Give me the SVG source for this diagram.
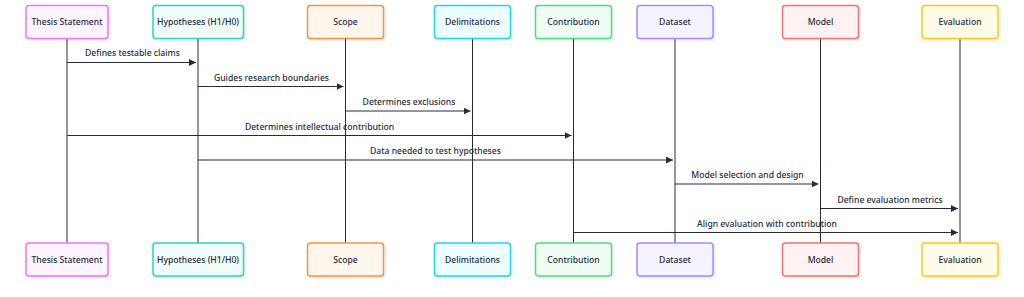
<svg xmlns="http://www.w3.org/2000/svg" width="1024" height="297" viewBox="0 0 1024 297">
<defs>
<marker id="arr" markerWidth="8" markerHeight="8" refX="7" refY="3.5" orient="auto" markerUnits="userSpaceOnUse"><path d="M0,0 L7,3.5 L0,7 Z" fill="#2a2a3e"/></marker>
<filter id="sh" x="-10%" y="-10%" width="130%" height="140%"><feDropShadow dx="1.5" dy="1.5" stdDeviation="0.8" flood-color="#000" flood-opacity="0.1"/></filter>
</defs>
<style>
.box{stroke-width:1.5;filter:url(#sh)}
.t{font-family:"Noto Sans","DejaVu Sans",sans-serif;font-size:8.6px;font-weight:500;fill:#2a2a3e;text-anchor:middle;dominant-baseline:central}
.life{stroke:#2a2a3e;stroke-width:1}
.msg{stroke:#2a2a3e;stroke-width:1;fill:none;marker-end:url(#arr)}
</style>
<rect width="1024" height="297" fill="#fff"/>
<g id="lifelines">
<line class="life" x1="67" y1="38" x2="67" y2="243"/>
<line class="life" x1="198" y1="38" x2="198" y2="243"/>
<line class="life" x1="345.5" y1="38" x2="345.5" y2="243"/>
<line class="life" x1="472.5" y1="38" x2="472.5" y2="243"/>
<line class="life" x1="573.5" y1="38" x2="573.5" y2="243"/>
<line class="life" x1="675" y1="38" x2="675" y2="243"/>
<line class="life" x1="820.5" y1="38" x2="820.5" y2="243"/>
<line class="life" x1="960" y1="38" x2="960" y2="243"/>
</g>
<g id="thesis">
<rect class="box" x="26" y="5.5" width="82" height="33" rx="3" fill="#fdf4ff" stroke="#e879f9"/>
<text class="t" x="67" y="22">Thesis Statement</text>
<rect class="box" x="26" y="243" width="82" height="33" rx="3" fill="#fdf4ff" stroke="#e879f9"/>
<text class="t" x="67" y="259.5">Thesis Statement</text>
</g>
<g id="hypotheses">
<rect class="box" x="153" y="5.5" width="90.5" height="33" rx="3" fill="#f0fdfa" stroke="#2dd4bf"/>
<text class="t" x="198" y="22">Hypotheses (H1/H0)</text>
<rect class="box" x="153" y="243" width="90.5" height="33" rx="3" fill="#f0fdfa" stroke="#2dd4bf"/>
<text class="t" x="198" y="259.5">Hypotheses (H1/H0)</text>
</g>
<g id="scope">
<rect class="box" x="307.5" y="5.5" width="76" height="33" rx="3" fill="#fff7ed" stroke="#fb923c"/>
<text class="t" x="345.5" y="22">Scope</text>
<rect class="box" x="307.5" y="243" width="76" height="33" rx="3" fill="#fff7ed" stroke="#fb923c"/>
<text class="t" x="345.5" y="259.5">Scope</text>
</g>
<g id="delimitations">
<rect class="box" x="434.5" y="5.5" width="76" height="33" rx="3" fill="#ecfeff" stroke="#22d3ee"/>
<text class="t" x="472.5" y="22">Delimitations</text>
<rect class="box" x="434.5" y="243" width="76" height="33" rx="3" fill="#ecfeff" stroke="#22d3ee"/>
<text class="t" x="472.5" y="259.5">Delimitations</text>
</g>
<g id="contribution">
<rect class="box" x="535.5" y="5.5" width="76" height="33" rx="3" fill="#f0fdf4" stroke="#4ade80"/>
<text class="t" x="573.5" y="22">Contribution</text>
<rect class="box" x="535.5" y="243" width="76" height="33" rx="3" fill="#f0fdf4" stroke="#4ade80"/>
<text class="t" x="573.5" y="259.5">Contribution</text>
</g>
<g id="dataset">
<rect class="box" x="637" y="5.5" width="76" height="33" rx="3" fill="#f5f3ff" stroke="#a78bfa"/>
<text class="t" x="675" y="22">Dataset</text>
<rect class="box" x="637" y="243" width="76" height="33" rx="3" fill="#f5f3ff" stroke="#a78bfa"/>
<text class="t" x="675" y="259.5">Dataset</text>
</g>
<g id="model">
<rect class="box" x="782.5" y="5.5" width="76" height="33" rx="3" fill="#fef2f2" stroke="#f87171"/>
<text class="t" x="820.5" y="22">Model</text>
<rect class="box" x="782.5" y="243" width="76" height="33" rx="3" fill="#fef2f2" stroke="#f87171"/>
<text class="t" x="820.5" y="259.5">Model</text>
</g>
<g id="evaluation">
<rect class="box" x="922" y="5.5" width="76" height="33" rx="3" fill="#fefce8" stroke="#facc15"/>
<text class="t" x="960" y="22">Evaluation</text>
<rect class="box" x="922" y="243" width="76" height="33" rx="3" fill="#fefce8" stroke="#facc15"/>
<text class="t" x="960" y="259.5">Evaluation</text>
</g>
<g id="messages">
<line class="msg" x1="67" y1="62.5" x2="196" y2="62.5"/>
<text class="t" x="132.5" y="53">Defines testable claims</text>
<line class="msg" x1="198" y1="86.5" x2="343.5" y2="86.5"/>
<text class="t" x="271.5" y="77.5">Guides research boundaries</text>
<line class="msg" x1="345.5" y1="111" x2="470.5" y2="111"/>
<text class="t" x="409" y="102">Determines exclusions</text>
<line class="msg" x1="67" y1="135.5" x2="571.5" y2="135.5"/>
<text class="t" x="319.5" y="126.5">Determines intellectual contribution</text>
<line class="msg" x1="198" y1="160" x2="673" y2="160"/>
<text class="t" x="435.5" y="151">Data needed to test hypotheses</text>
<line class="msg" x1="675" y1="184" x2="818.5" y2="184"/>
<text class="t" x="747.5" y="175">Model selection and design</text>
<line class="msg" x1="820.5" y1="208.5" x2="958" y2="208.5"/>
<text class="t" x="890" y="199.5">Define evaluation metrics</text>
<line class="msg" x1="573.5" y1="232.5" x2="958" y2="232.5"/>
<text class="t" x="767" y="223.5">Align evaluation with contribution</text>
</g>
</svg>
